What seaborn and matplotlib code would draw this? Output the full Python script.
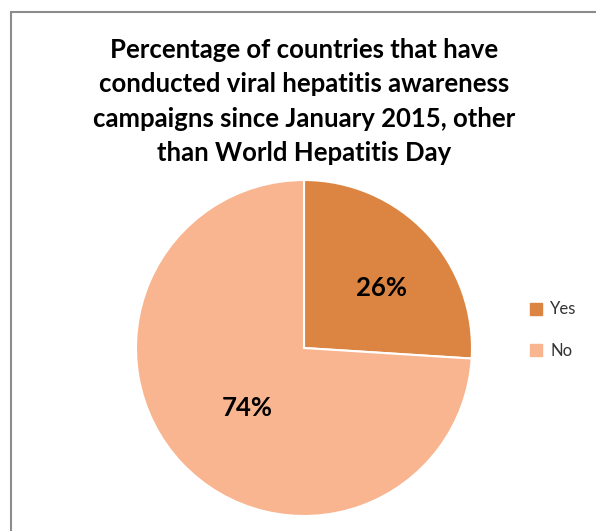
import matplotlib
matplotlib.use("Agg")
import matplotlib.pyplot as plt
import matplotlib.patches as mpatches
import seaborn as sns

labels = ["Yes", "No"]
values = [26, 74]
colors = ["#DC8441", "#F8B58F"]
title = ("Percentage of countries that have\nconducted viral hepatitis awareness\n"
         "campaigns since January 2015, other\nthan World Hepatitis Day")

sns.set_style("white")
plt.rcParams["font.family"] = ["Lato", "DejaVu Sans"]
plt.rcParams["text.color"] = "black"

W, H = 596, 531
fig = plt.figure(figsize=(W / 100, H / 100), dpi=100)

# chart frame (runs off the right and bottom edges)
fig.patches.append(mpatches.Rectangle((11 / W, -0.1), 1.2, 1 - 12 / H + 0.1,
                                      transform=fig.transFigure, fill=False,
                                      edgecolor="#8c8c8c", linewidth=1.5))

fig.text(304 / W, 1 - 38 / H, title, ha="center", va="top", fontsize=18.5,
         fontweight="bold", linespacing=1.52, color="black")

cx, cy, r = 304, 348, 168
ax = fig.add_axes([(cx - r) / W, (H - cy - r) / H, 2 * r / W, 2 * r / H])
wedges, _, autotexts = ax.pie(values, colors=colors, startangle=90, counterclock=False,
                              autopct="%d%%", pctdistance=0.55,
                              wedgeprops=dict(edgecolor="white", linewidth=1.5),
                              textprops=dict(fontsize=18.5, fontweight="bold", color="black"))
# label spots as placed in the original
autotexts[0].set_position((0.46, 0.36))
autotexts[1].set_position((-0.34, -0.36))
ax.set_xlim(-1, 1)
ax.set_ylim(-1, 1)
ax.set_aspect("equal")
ax.axis("off")

handles = [mpatches.Patch(color=c, label=l) for c, l in zip(colors, labels)]
fig.legend(handles=handles, loc="center left", bbox_to_anchor=(515 / W, 1 - 330 / H),
           frameon=False, fontsize=12, handlelength=0.7, handleheight=0.7,
           handletextpad=0.5, labelspacing=1.5, labelcolor="#333333")

fig.savefig("out.png", dpi=100)
